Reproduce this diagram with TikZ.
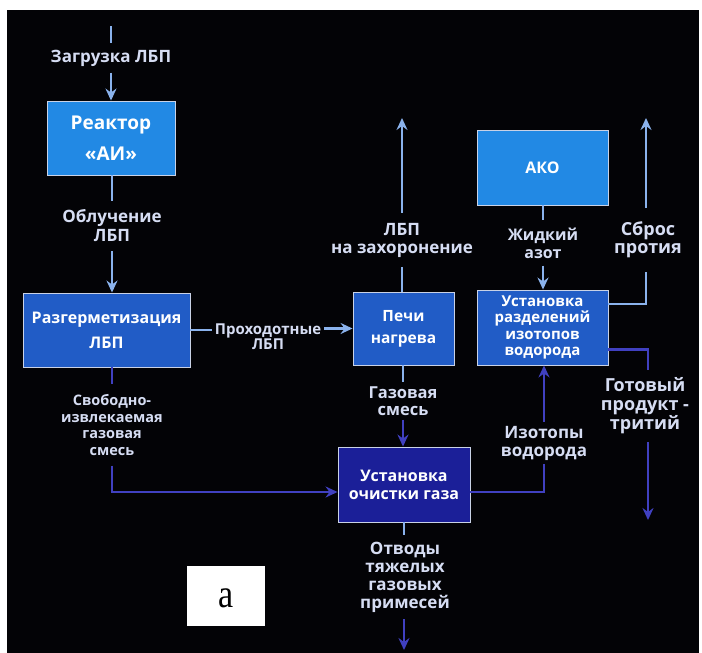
\documentclass[tikz,border=0pt]{standalone}
\usepackage{fontspec}
\setmainfont{Open Sans}
\newfontfamily\serifa{Liberation Serif}
\usetikzlibrary{arrows.meta}

\definecolor{bgblack}{HTML}{030306}
\definecolor{boxlight}{HTML}{2289E4}
\definecolor{boxmid}{HTML}{215CC6}
\definecolor{boxdark}{HTML}{1B1F98}
\definecolor{edgecol}{HTML}{C9D2E6}
\definecolor{labcol}{HTML}{D6DDF3}
\definecolor{lightflow}{HTML}{8AB2EC}
\definecolor{navyflow}{HTML}{4040C0}

\tikzset{
  blockbox/.style={draw=edgecol, line width=0.9pt, text=white, align=center, inner sep=0pt},
  bfs/.style={font=\fontsize{16}{#1}\selectfont\bfseries},
  lab/.style={text=labcol, align=center, inner xsep=3pt, font=\fontsize{17}{18}\selectfont\bfseries},
  lightline/.style={draw=lightflow, line width=2.2pt},
  navyline/.style={draw=navyflow, line width=2.6pt},
  tip/.style={-{Stealth[length=12pt,width=11pt,inset=4pt]}}
}

\begin{document}
\begin{tikzpicture}[x=1pt,y=-1pt]
\useasboundingbox (0,0) rectangle (702,653);
\fill[white] (0,0) rectangle (702,653);
\fill[bgblack] (7,10) rectangle (699,653);

% blocks
\node[blockbox, fill=boxlight, minimum width=128pt, minimum height=74pt, font=\fontsize{19}{31}\selectfont\bfseries] (R) at (111,138) {Реактор\\«АИ»};
\node[blockbox, fill=boxmid, minimum width=167pt, minimum height=74pt, bfs=25] (D) at (106.5,330) {Разгерметизация\\ЛБП};
\node[blockbox, fill=boxmid, minimum width=101pt, minimum height=73pt, font=\fontsize{15.5}{22}\selectfont\bfseries] (P) at (403.5,328.5) {Печи\\нагрева};
\node[blockbox, fill=boxmid, minimum width=131pt, minimum height=75pt, font=\fontsize{15}{16.5}\selectfont\bfseries] (U) at (542.5,327.5) {Установка\\разделений\\изотопов\\водорода};
\node[blockbox, fill=boxlight, minimum width=131pt, minimum height=75pt, bfs=20] (A) at (542.5,167.5) {АКО};
\node[blockbox, fill=boxdark, minimum width=132pt, minimum height=75pt, bfs=18] (O) at (404,484.5) {Установка\\очистки газа};

% labels
\node[lab, inner ysep=6.3pt] (L1) at (111,58) {Загрузка ЛБП};
\node[lab, inner ysep=9pt, font=\fontsize{17}{19}\selectfont\bfseries] (L2) at (112,226) {Облучение\\ЛБП};
\node[lab, inner ysep=4pt, font=\fontsize{15}{13}\selectfont\bfseries] (L3) at (268,337) {Проходотные\\ЛБП};
\node[lab, inner ysep=10pt] (L4) at (402,240) {ЛБП\\на захоронение};
\node[lab, inner ysep=7pt, font=\fontsize{16}{18}\selectfont\bfseries] (L5) at (543,243) {Жидкий\\азот};
\node[lab, inner ysep=14pt, font=\fontsize{18}{18}\selectfont\bfseries] (L6) at (648,240) {Сброс\\протия};
\node[lab, inner ysep=8pt, font=\fontsize{18}{19}\selectfont\bfseries] (L7) at (645,406) {Готовый\\продукт -\\тритий};
\node[lab, inner ysep=4pt, font=\fontsize{16.5}{17}\selectfont\bfseries] (L8) at (403,401) {Газовая\\смесь};
\node[lab, inner ysep=10pt, font=\fontsize{14.5}{16.5}\selectfont\bfseries] (L9) at (112,425) {Свободно-\\извлекаемая\\газовая\\смесь};
\node[lab, inner ysep=4pt] (L10) at (544,443) {Изотопы\\водорода};
\node[lab, inner ysep=7pt] (L11) at (405,577) {Отводы\\тяжелых\\газовых\\примесей};

% free ends
\coordinate (in1) at (111,26);
\coordinate (out4) at (402,118);
\coordinate (out6) at (646,118);
\coordinate (out7) at (648,520);
\coordinate (out11) at (404,650);

% connectors
\draw[lightline] (in1) -- (in1 |- L1.north);
\draw[lightline, tip] (L1) -- (R);
\draw[lightline] (R.south -| L2.north) -- (L2);
\draw[lightline, tip] (L2) -- (L2.south |- D.north);
\draw[lightline] (D.east) -- (D.east -| L3.west);
\draw[lightline, tip] (L3.east |- P.west) -- (P.west);
\draw[lightline] (P.north -| out4) -- (L4.south -| out4);
\draw[lightline, tip] (L4.north -| out4) -- (out4);
\draw[lightline] (A.south -| L5.north) -- (L5);
\draw[lightline, tip] (L5) -- (L5.south |- U.north);
\draw[lightline] ([yshift=23.5pt]U.east) -| (L6.south -| out6);
\draw[lightline, tip] (L6.north -| out6) -- (out6);
\draw[navyline] ([yshift=-22pt]U.east) -| (L7.north -| out7);
\draw[navyline, tip] (L7.south -| out7) -- (out7);
\draw[lightline] (P.south -| L8.north) -- (L8);
\draw[navyline, tip] (L8) -- (L8.south |- O.north);
\draw[navyline] (D.south -| L9.north) -- (L9);
\draw[navyline, tip] (L9.south) |- ([yshift=-7.5pt]O.west);
\draw[navyline] ([yshift=-7.5pt]O.east) -| (L10.south);
\draw[navyline, tip] (L10) -- (L10.north |- U.south);
\draw[lightline] (O.south) -- (O.south |- L11.north);
\draw[navyline, tip] (L11.south -| out11) -- (out11);

% panel tag
\node[fill=white, draw=none, minimum width=78pt, minimum height=60pt, inner sep=0pt] (tag) at (226,596) {};
\node[inner sep=0pt, font=\serifa\fontsize{40}{40}\selectfont, xscale=0.85] (taga) at (226.5,598) {a};
\end{tikzpicture}
\end{document}
